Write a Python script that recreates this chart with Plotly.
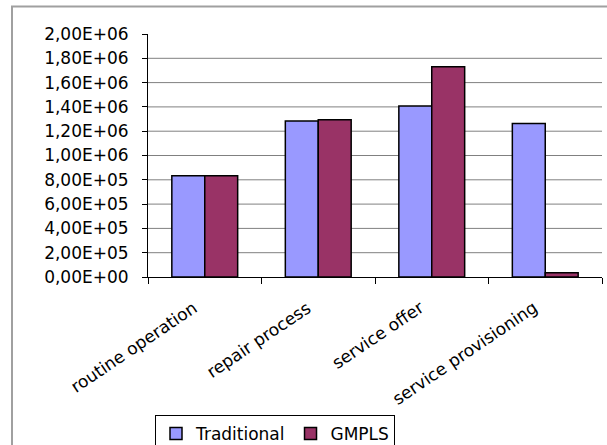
import plotly.graph_objects as go

# Cost comparison per process category
categories = ["routine operation", "repair process", "service offer", "service provisioning"]
traditional = [833000, 1283000, 1408000, 1263000]
gmpls = [833000, 1294000, 1730000, 35000]

y_ticks = [i * 200000 for i in range(11)]


def sci_comma(v):
    # Excel-style scientific label with a decimal comma, e.g. 2,00E+06
    s = f"{v:.2E}"
    mant, exp = s.split("E")
    sign = exp[0]
    digits = exp[1:].zfill(2)
    return f"{mant.replace('.', ',')}E{sign}{digits}"


y_labels = [sci_comma(v) for v in y_ticks]

W, H = 607, 445
L, R, T, B = 148, 5, 34, 168
pw = W - L - R
ph = H - T - B


def px_x(x):
    return (x - L) / pw


def px_y(y):
    return 1 + (T - y) / ph


font_main = "DejaVu Sans"

fig = go.Figure()
fig.add_trace(go.Bar(
    name="Traditional", x=categories, y=traditional,
    marker=dict(color="#9999FF", line=dict(color="#000000", width=1.5)),
))
fig.add_trace(go.Bar(
    name="GMPLS", x=categories, y=gmpls,
    marker=dict(color="#993366", line=dict(color="#000000", width=1.5)),
))

# horizontal gridlines (none at the top of the scale)
for v in y_ticks[1:-1]:
    fig.add_shape(type="line", xref="paper", yref="y", x0=0, x1=1, y0=v, y1=v,
                  line=dict(color="#808080", width=1), layer="below")

# outer chart frame, running past the right and bottom edges
fig.add_shape(type="rect", xref="paper", yref="paper",
              x0=px_x(12), x1=px_x(620), y0=px_y(460), y1=px_y(6.5),
              line=dict(color="#a0a0a0", width=2), layer="below")

# slanted category labels, ending just left of each category centre
for i, c in enumerate(categories):
    fig.add_annotation(
        x=i, y=0, xref="x", yref="y", text=c, showarrow=False,
        textangle=-34, xanchor="right", yanchor="top",
        xshift=-3, yshift=-19, borderpad=0,
        font=dict(family=font_main, size=17, color="#000000"),
    )

fig.update_layout(
    width=W, height=H,
    margin=dict(l=L, r=R, t=T, b=B, autoexpand=False),
    paper_bgcolor="white", plot_bgcolor="white",
    barmode="group", bargap=0.42, bargroupgap=0,
    font=dict(family=font_main, color="#000000"),
    showlegend=True,
    legend=dict(
        orientation="h", x=px_x(155), y=px_y(415), xanchor="left", yanchor="top",
        bordercolor="#000000", borderwidth=1, bgcolor="white",
        font=dict(family=font_main, size=17, color="#000000"),
        itemwidth=30, tracegroupgap=0,
    ),
    xaxis=dict(
        type="category", categoryorder="array", categoryarray=categories,
        range=[-0.5, len(categories) - 0.5],
        showgrid=False, showline=True, linecolor="#000000", linewidth=1,
        ticks="outside", ticklen=6, tickcolor="#000000", tickson="boundaries",
        showticklabels=False,
    ),
    yaxis=dict(
        range=[0, 2000000], showgrid=False, zeroline=False,
        showline=True, linecolor="#000000", linewidth=1,
        ticks="outside", ticklen=5, tickcolor="#000000",
        tickvals=y_ticks, ticktext=y_labels, ticklabelstandoff=10,
        tickfont=dict(family=font_main, size=17, color="#000000"),
    ),
)

fig.write_html("out.html")
